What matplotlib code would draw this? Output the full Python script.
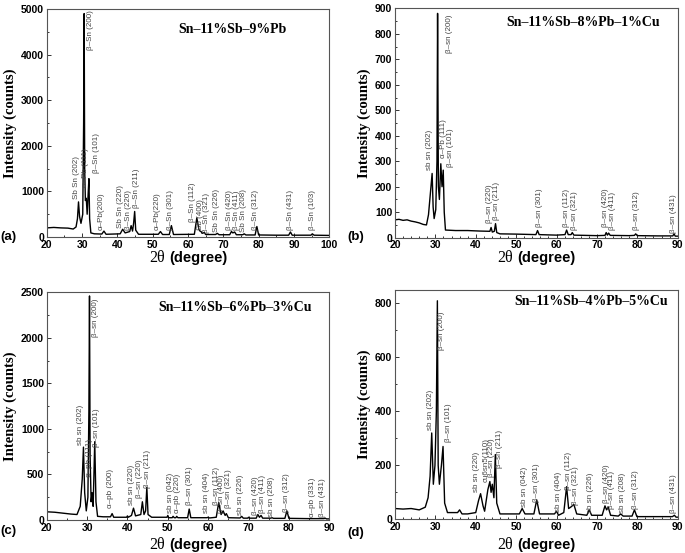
import matplotlib
import matplotlib.pyplot as plt
from matplotlib.offsetbox import AnnotationBbox, HPacker, TextArea
from matplotlib.ticker import MultipleLocator

matplotlib.use("Agg")

# ---- (a) Sn-11%Sb-9%Pb ----
a_x = [20, 22, 24, 26, 27.5, 28.3, 28.7, 29.0, 29.3, 29.7, 30.2, 30.45, 30.6, 30.75, 30.95, 31.2,
       31.45, 31.7, 31.95, 32.15, 32.5, 33.5, 35.6, 36.2, 36.8, 40.8, 41.5, 42.2, 43.5, 43.9, 44.3,
       44.6, 44.9, 45.2, 46, 51.6, 52.2, 52.8, 54.7, 55.3, 55.9, 61.8, 62.5, 63.1, 63.4, 63.7, 64.0,
       64.6, 65.0, 67.8, 68.3, 68.8, 71.8, 72.3, 72.7, 73.2, 73.7, 75.5, 75.9, 76.4, 79.0, 79.5, 80.0,
       85, 88.5, 89.0, 89.5, 94.8, 95.2, 95.7, 100]
a_y = [200, 210, 200, 195, 175, 220, 400, 770, 450, 300, 500, 2500, 4900, 1500, 800, 850,
       500, 900, 1280, 400, 90, 70, 65, 130, 60, 70, 170, 90, 120, 250, 130,
       300, 560, 150, 60, 60, 120, 55, 55, 250, 55, 60, 420, 160, 130, 120, 80,
       100, 55, 55, 80, 50, 50, 120, 90, 110, 50, 50, 70, 45, 45, 230, 45,
       40, 40, 110, 40, 40, 70, 40, 35]
a_lab_x = [28.3, 31.1, 34.0, 32.5, 35.3, 40.9, 43.2, 45.3, 51.3, 55.1, 61.2, 63.4, 65.3, 68.1,
           71.7, 73.6, 75.8, 79.2, 89.1, 95.2]
a_lab_y = [830, 1100, 1400, 4100, 150, 190, 150, 630, 150, 150, 340, 150, 80, 120,
           150, 150, 120, 150, 150, 150]
a_labels = ["Sb Sn (202)", "α–Pb (111)", "β–Sn (101)", "β–Sn (200)", "α–Pb(200)", "Sb Sn (220)",
            "β–Sn (220)", "β–Sn (211)", "α–Pb(220)", "β–Sn (301)", "β–Sn (112)", "Sb (400)",
            "β–Sn (321)", "Sb Sn (226)", "β–Sn (420)", "β–Sn (411)", "Sb Sn (208)", "β–Sn (312)",
            "β–Sn (431)", "β–Sn (103)"]

# ---- (b) Sn-11%Sb-8%Pb-1%Cu ----
b_x = [20, 21, 22, 23, 24, 25, 26, 27, 27.8, 28.3, 28.8, 29.2, 29.45, 29.7, 30.1, 30.4, 30.55,
       30.75, 31.0, 31.35, 31.65, 31.95, 32.2, 32.5, 35, 38, 41, 43.5, 43.8, 44.1, 44.6, 44.9,
       45.2, 46, 50, 54.9, 55.3, 55.7, 60, 62.1, 62.5, 62.9, 63.6, 63.9, 64.3, 70, 72, 72.3,
       72.6, 72.9, 73.3, 78, 79.3, 79.6, 80, 85, 88.8, 89.1, 89.4, 90]
b_y = [70, 72, 68, 70, 65, 62, 58, 52, 50, 90, 180, 252, 120, 75, 110, 300, 880,
       200, 150, 290, 200, 265, 100, 30, 28, 28, 26, 25, 40, 22, 25, 55,
       20, 15, 14, 12, 28, 12, 10, 12, 30, 12, 12, 20, 10, 8, 9, 20,
       10, 18, 9, 8, 9, 15, 8, 7, 7, 15, 6, 6]
b_lab_x = [28.5, 32.1, 33.8, 33.6, 43.3, 45.2, 55.8, 62.5, 64.4, 72.2, 73.9, 79.9, 89.0]
b_lab_y = [266, 311, 279, 723, 56, 69, 43, 43, 30, 43, 30, 30, 17]
b_labels = ["sb sn (202)", "α–Pb (111)", "β–sn (101)", "β–sn (200)", "β–sn (220)", "β–sn (211)",
            "β–sn (301)", "β–sn (112)", "β–sn (321)", "β–sn (420)", "β–sn (411)", "β–sn (312)",
            "β–sn (431)"]

# ---- (c) Sn-11%Sb-6%Pb-3%Cu ----
c_x = [20, 22, 24, 26, 27.5, 28.3, 28.8, 29.1, 29.4, 29.8, 30.2, 30.45, 30.6, 30.75, 31.0, 31.25,
       31.5, 31.9, 32.2, 32.6, 34, 35.8, 36.2, 36.6, 39.8, 40.0, 40.2, 41.0, 41.5, 42.0, 43.3, 43.7,
       44.1, 44.5, 44.8, 45.1, 46, 49.8, 50.0, 50.2, 51.1, 51.3, 51.6, 52.0, 52.2, 52.5, 54.9, 55.3,
       55.7, 59.7, 60.0, 60.3, 62.0, 62.6, 63.2, 63.7, 64.2, 64.5, 65.0, 67.9, 68.3, 68.7, 69.8,
       70.0, 70.2, 71.9, 72.3, 72.7, 73.1, 73.5, 75.5, 75.8, 76.2, 79.0, 79.5, 80.0, 84.8, 85.0,
       85.3, 88.7, 89.0, 89.3, 90]
c_y = [90, 85, 75, 65, 60, 150, 450, 800, 300, 100, 250, 1200, 2460, 700, 200, 300,
       150, 860, 200, 40, 35, 35, 70, 30, 30, 45, 30, 50, 130, 45, 60, 200,
       60, 100, 360, 60, 30, 30, 50, 25, 25, 40, 25, 25, 40, 25, 25, 120,
       25, 25, 30, 22, 30, 190, 60, 100, 50, 70, 25, 22, 40, 20, 20,
       30, 20, 20, 60, 30, 50, 20, 20, 25, 18, 18, 100, 18, 15, 15,
       15, 15, 20, 12, 12]
c_lab_x = [28.3, 30.7, 32.4, 32.0, 35.7, 40.9, 43.1, 45.0, 50.6, 52.4, 55.3, 59.6, 62.1, 63.4,
           65.0, 68.1, 71.6, 73.4, 75.7, 79.3, 85.9, 88.4]
c_lab_y = [824, 476, 805, 2013, 128, 165, 238, 348, 73, 73, 165, 73, 165, 73,
           128, 55, 55, 73, 37, 92, 37, 37]
c_labels = ["sb sn (202)", "α–pb (111)", "β–sn (101)", "β–sn (200)", "α–pb (200)", "sb sn (220)",
            "β–sn (220)", "β–sn (211)", "sb sn (042)", "α–pb (220)", "β–sn (301)", "sb sn (404)",
            "β–sn (112)", "β–sn (400)", "β–sn (321)", "sb sn (226)", "β–sn (420)", "β–sn (411)",
            "sb sn (208)", "β–sn (312)", "α–pb (331)", "β–sn (431)"]

# ---- (d) Sn-11%Sb-4%Pb-5%Cu ----
d_x = [20, 22, 24, 26, 27.5, 28.2, 28.7, 29.1, 29.5, 29.9, 30.25, 30.5, 30.7, 31.0, 31.5, 31.9,
       32.3, 33, 35.5, 36.0, 36.6, 38, 40.0, 40.7, 41.2, 41.8, 42.2, 43.0, 43.5, 43.8, 44.1, 44.5,
       44.85, 45.2, 46, 50.8, 51.5, 52.2, 54.4, 55.1, 55.8, 59.5, 60.0, 60.5, 61.8, 62.5, 63.0,
       63.5, 64.3, 65.0, 67.5, 68.1, 68.7, 71.3, 72.0, 72.4, 72.8, 73.4, 75.3, 75.9, 76.5, 78.7,
       79.3, 79.9, 88.7, 89.2, 89.6, 90]
d_y = [40, 38, 40, 35, 45, 80, 160, 320, 130, 200, 400, 810, 200, 130, 200, 270,
       60, 25, 25, 35, 20, 20, 25, 70, 95, 50, 30, 110, 140, 100, 130, 80,
       240, 60, 20, 20, 40, 20, 20, 72, 20, 20, 30, 15, 25, 121, 40,
       45, 55, 20, 15, 35, 15, 15, 50, 35, 45, 15, 12, 20, 12, 12,
       35, 10, 10, 15, 8, 8]
d_lab_x = [28.8, 31.6, 33.2, 40.2, 42.6, 43.9, 45.8, 52.0, 55.1, 60.5, 62.9, 64.8, 68.3, 72.4,
           73.7, 76.4, 79.5, 89.0]
d_lab_y = [331, 627, 288, 102, 140, 158, 189, 47, 65, 28, 109, 53, 22, 59,
           40, 22, 40, 22]
d_labels = ["sb sn (202)", "β–sn (200)", "β–sn (101)", "sb sn (220)", "cu6sn5(110)", "β–sn (220)",
            "β–sn (211)", "sb sn (042)", "β–sn (301)", "sb sn (404)", "β–sn (112)", "β–sn (321)",
            "sb sn (226)", "β–sn (420)", "β–sn (411)", "sb sn (208)", "β–sn (312)", "β–sn (431)"]

SANS = "Liberation Sans"
SERIF = "Liberation Serif"


def _xlabel(ax, y):
    parts = [
        TextArea("2θ", textprops=dict(family=SERIF, size=11.5)),
        TextArea("(degree)", textprops=dict(family=SANS, weight="bold", size=10.5)),
    ]
    box = HPacker(children=parts, align="baseline", pad=0, sep=3)
    ab = AnnotationBbox(box, (0.5, y), xycoords="axes fraction", frameon=False,
                        box_alignment=(0.5, 0.5), annotation_clip=False)
    ax.add_artist(ab)


def _panel(fig, rect, xs, ys, lab_x, lab_y, labels, xlim, ylim, ymaj, ymin, xmin,
           title, title_xy, letter, letter_y, xlabel_y):
    ax = fig.add_axes(rect)
    ax.plot(xs, ys, color="black", lw=1.0)
    for x, y, text in zip(lab_x, lab_y, labels):
        ax.text(x, y, text, rotation=90, ha="center", va="bottom", fontsize=5.8,
                family=SANS, color="#444444")
    ax.set_xlim(*xlim)
    ax.set_ylim(*ylim)
    ax.xaxis.set_major_locator(MultipleLocator(10))
    ax.xaxis.set_minor_locator(MultipleLocator(xmin))
    ax.yaxis.set_major_locator(MultipleLocator(ymaj))
    ax.yaxis.set_minor_locator(MultipleLocator(ymin))
    ax.tick_params(which="both", direction="in", top=False, right=False, width=0.7,
                   color="#333333", pad=2)
    ax.tick_params(which="major", length=3)
    ax.tick_params(which="minor", length=1.5)
    for lab in ax.get_xticklabels() + ax.get_yticklabels():
        lab.set_family(SANS)
        lab.set_weight("bold")
        lab.set_fontsize(7.5)
    for spine in ax.spines.values():
        spine.set_color("#555555")
        spine.set_linewidth(0.8)
    ax.set_ylabel("Intensity (counts)", family=SERIF, weight="bold", fontsize=10.5, labelpad=3)
    ax.text(title_xy[0], title_xy[1], title, transform=ax.transAxes, ha="center", va="center",
            family=SERIF, weight="bold", fontsize=10)
    _xlabel(ax, xlabel_y)
    fig.text(letter[1], letter_y, letter[0], family=SANS, weight="bold", fontsize=9.5,
             ha="left", va="center")
    return ax


fig = plt.figure(figsize=(6.85, 5.53), dpi=100)
_panel(fig, [0.0682, 0.5714, 0.4125, 0.4123], a_x, a_y, a_lab_x, a_lab_y, a_labels,
       (20, 100), (0, 5000), 1000, 500, 5, "Sn–11%Sb–9%Pb", (0.656, 0.908),
       ("(a)", 0.0), 0.571, -0.09)
_panel(fig, [0.5766, 0.5702, 0.4127, 0.4148], b_x, b_y, b_lab_x, b_lab_y, b_labels,
       (20, 90), (0, 900), 100, 50, 2, "Sn–11%Sb–8%Pb–1%Cu", (0.667, 0.936),
       ("(b)", 0.507), 0.571, -0.09)
_panel(fig, [0.0682, 0.0597, 0.4125, 0.4117], c_x, c_y, c_lab_x, c_lab_y, c_labels,
       (20, 90), (0, 2500), 500, 250, 5, "Sn–11%Sb–6%Pb–3%Cu", (0.666, 0.935),
       ("(c)", 0.0), 0.040, -0.11)
_panel(fig, [0.5766, 0.0609, 0.4127, 0.4147], d_x, d_y, d_lab_x, d_lab_y, d_labels,
       (20, 90), (0, 850), 200, 100, 2, "Sn–11%Sb–4%Pb–5%Cu", (0.695, 0.948),
       ("(d)", 0.507), 0.036, -0.11)

fig.savefig("out.png", dpi=100)
plt.close(fig)
